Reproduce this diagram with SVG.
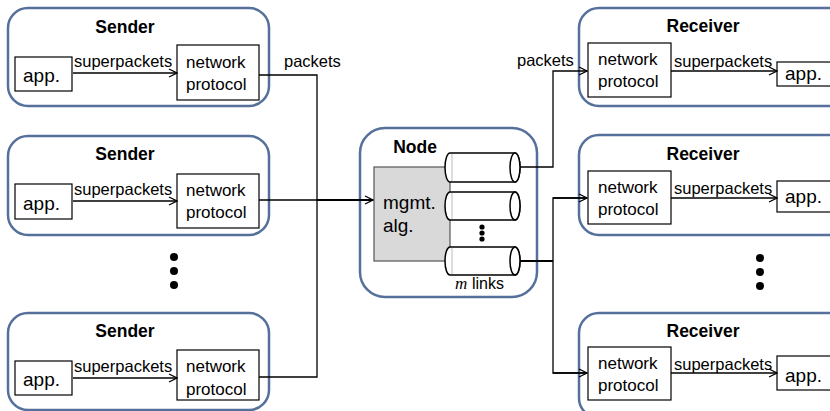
<svg xmlns="http://www.w3.org/2000/svg" width="830" height="411" viewBox="0 0 830 411">
<defs>
<marker id="arr" viewBox="0 0 10 10" refX="9" refY="5" markerWidth="10" markerHeight="10" markerUnits="userSpaceOnUse" orient="auto">
<path d="M1,1 L9,5 L1,9" fill="none" stroke="#000" stroke-width="1.3"/>
</marker>
</defs>
<style>
.outer{fill:#fff;stroke:#56709c;stroke-width:2.5}
.box{fill:#fff;stroke:#000;stroke-width:1.2}
.t{font-family:"Liberation Sans",Arial,sans-serif;font-size:17px;fill:#000}
.s{font-family:"Liberation Sans",Arial,sans-serif;font-size:16.5px;fill:#000}
.a{font-family:"Liberation Sans",Arial,sans-serif;font-size:19px;fill:#000}
.h{font-family:"Liberation Sans",Arial,sans-serif;font-size:17.5px;font-weight:bold;fill:#000;text-anchor:middle}
.ln{fill:none;stroke:#000;stroke-width:1.3}
.lk{fill:none;stroke:#000;stroke-width:2}
.cyl{fill:#fff;stroke:#000;stroke-width:1.5}
</style>

<g id="sender1">
<rect class="outer" x="8" y="8" width="261" height="98" rx="20"/>
<text class="h" x="125" y="33">Sender</text>
<rect class="box" x="15" y="57" width="57" height="34"/>
<text class="a" x="23" y="82">app.</text>
<rect class="box" x="177" y="45" width="82" height="55"/>
<text class="t" x="186" y="68">network</text>
<text class="t" x="186" y="90">protocol</text>
<text class="s" x="74" y="67">superpackets</text>
<line class="ln" x1="73" y1="73" x2="177" y2="73" marker-end="url(#arr)"/>
</g>

<g id="sender2">
<rect class="outer" x="8" y="136" width="261" height="99" rx="20"/>
<text class="h" x="125" y="160">Sender</text>
<rect class="box" x="15" y="184" width="57" height="35"/>
<text class="a" x="23" y="210">app.</text>
<rect class="box" x="177" y="174" width="82" height="54"/>
<text class="t" x="186" y="196">network</text>
<text class="t" x="186" y="218">protocol</text>
<text class="s" x="74" y="195">superpackets</text>
<line class="ln" x1="73" y1="201" x2="177" y2="201" marker-end="url(#arr)"/>
</g>

<g id="sender3">
<rect class="outer" x="8" y="313" width="261" height="97" rx="20"/>
<text class="h" x="125" y="337">Sender</text>
<rect class="box" x="15" y="361" width="57" height="34"/>
<text class="a" x="23" y="386">app.</text>
<rect class="box" x="177" y="350" width="82" height="50"/>
<text class="t" x="186" y="372">network</text>
<text class="t" x="186" y="395">protocol</text>
<text class="s" x="74" y="372">superpackets</text>
<line class="ln" x1="73" y1="378" x2="177" y2="378" marker-end="url(#arr)"/>
</g>

<g id="sender-dots">
<circle cx="174" cy="257" r="4"/>
<circle cx="174" cy="271" r="4"/>
<circle cx="174" cy="285" r="4"/>
</g>

<g id="node">
<rect class="outer" x="360" y="128" width="177" height="169" rx="25"/>
<text class="h" x="415" y="153">Node</text>
<rect x="374" y="167" width="76" height="94" fill="#d9d9d9" stroke="#555" stroke-width="1.2"/>
<text class="a" x="383" y="209">mgmt.</text>
<text class="a" x="383" y="232">alg.</text>
<path class="cyl" d="M450,153 L515,153 A5,14.5 0 0 1 515,182 L450,182 A5,14.5 0 0 1 450,153 Z"/>
<ellipse class="cyl" cx="515" cy="167.5" rx="5" ry="14.5"/>
<path class="cyl" d="M450,192 L515,192 A5,14 0 0 1 515,220 L450,220 A5,14 0 0 1 450,192 Z"/>
<ellipse class="cyl" cx="515" cy="206" rx="5" ry="14"/>
<path class="cyl" d="M450,247 L515,247 A5,14 0 0 1 515,275 L450,275 A5,14 0 0 1 450,247 Z"/>
<ellipse class="cyl" cx="515" cy="261" rx="5" ry="14"/>
<line x1="452" y1="154" x2="452" y2="181" stroke="#bbb" stroke-width="1"/>
<line x1="452" y1="193" x2="452" y2="219" stroke="#bbb" stroke-width="1"/>
<line x1="452" y1="248" x2="452" y2="274" stroke="#bbb" stroke-width="1"/>
<circle cx="482" cy="227" r="2.6"/>
<circle cx="482" cy="233" r="2.6"/>
<circle cx="482" cy="239" r="2.6"/>
<text x="455" y="289" font-family="'Liberation Serif',serif" font-style="italic" font-size="17">m</text>
<text x="472" y="289" font-family="'Liberation Sans',Arial,sans-serif" font-size="16">links</text>
</g>

<g id="receiver1">
<rect class="outer" x="579" y="8" width="270" height="98" rx="20"/>
<text class="h" x="703" y="32">Receiver</text>
<rect class="box" x="588" y="43" width="83" height="54"/>
<text class="t" x="598" y="65">network</text>
<text class="t" x="598" y="87">protocol</text>
<rect class="box" x="777" y="62" width="60" height="24"/>
<text class="a" x="785" y="80">app.</text>
<text class="s" x="674" y="67">superpackets</text>
<line class="ln" x1="671" y1="71" x2="777" y2="71" marker-end="url(#arr)"/>
</g>

<g id="receiver2">
<rect class="outer" x="579" y="135" width="270" height="100" rx="20"/>
<text class="h" x="703" y="160">Receiver</text>
<rect class="box" x="588" y="171" width="83" height="53"/>
<text class="t" x="598" y="193">network</text>
<text class="t" x="598" y="215">protocol</text>
<rect class="box" x="777" y="181" width="60" height="31"/>
<text class="a" x="785" y="203">app.</text>
<text class="s" x="674" y="194">superpackets</text>
<line class="ln" x1="671" y1="198" x2="777" y2="198" marker-end="url(#arr)"/>
</g>

<g id="receiver3">
<rect class="outer" x="579" y="313" width="270" height="105" rx="20"/>
<text class="h" x="703" y="337">Receiver</text>
<rect class="box" x="588" y="347" width="83" height="53"/>
<text class="t" x="598" y="369">network</text>
<text class="t" x="598" y="391">protocol</text>
<rect class="box" x="777" y="356" width="60" height="34"/>
<text class="a" x="785" y="382">app.</text>
<text class="s" x="674" y="370">superpackets</text>
<line class="ln" x1="671" y1="373" x2="777" y2="373" marker-end="url(#arr)"/>
</g>

<g id="receiver-dots">
<circle cx="760" cy="258" r="4"/>
<circle cx="760" cy="272" r="4"/>
<circle cx="760" cy="286" r="4"/>
</g>

<g id="connectors">
<polyline class="ln" points="259,75 317,75 317,377 259,377"/>
<line class="ln" x1="259" y1="200" x2="317" y2="200"/>
<line class="lk" x1="317" y1="200" x2="373" y2="200" marker-end="url(#arr)"/>
<text class="s" x="284" y="67">packets</text>
<polyline class="ln" points="520,167 553,167 553,71 587,71" marker-end="url(#arr)"/>
<text class="s" x="517" y="66">packets</text>
<line class="lk" x1="520" y1="261" x2="553" y2="261"/>
<polyline class="ln" points="587,198 553,198 553,373 587,373"/>
<line class="ln" x1="553" y1="198" x2="587" y2="198" marker-end="url(#arr)"/>
<line class="ln" x1="553" y1="373" x2="587" y2="373" marker-end="url(#arr)"/>
</g>
</svg>
